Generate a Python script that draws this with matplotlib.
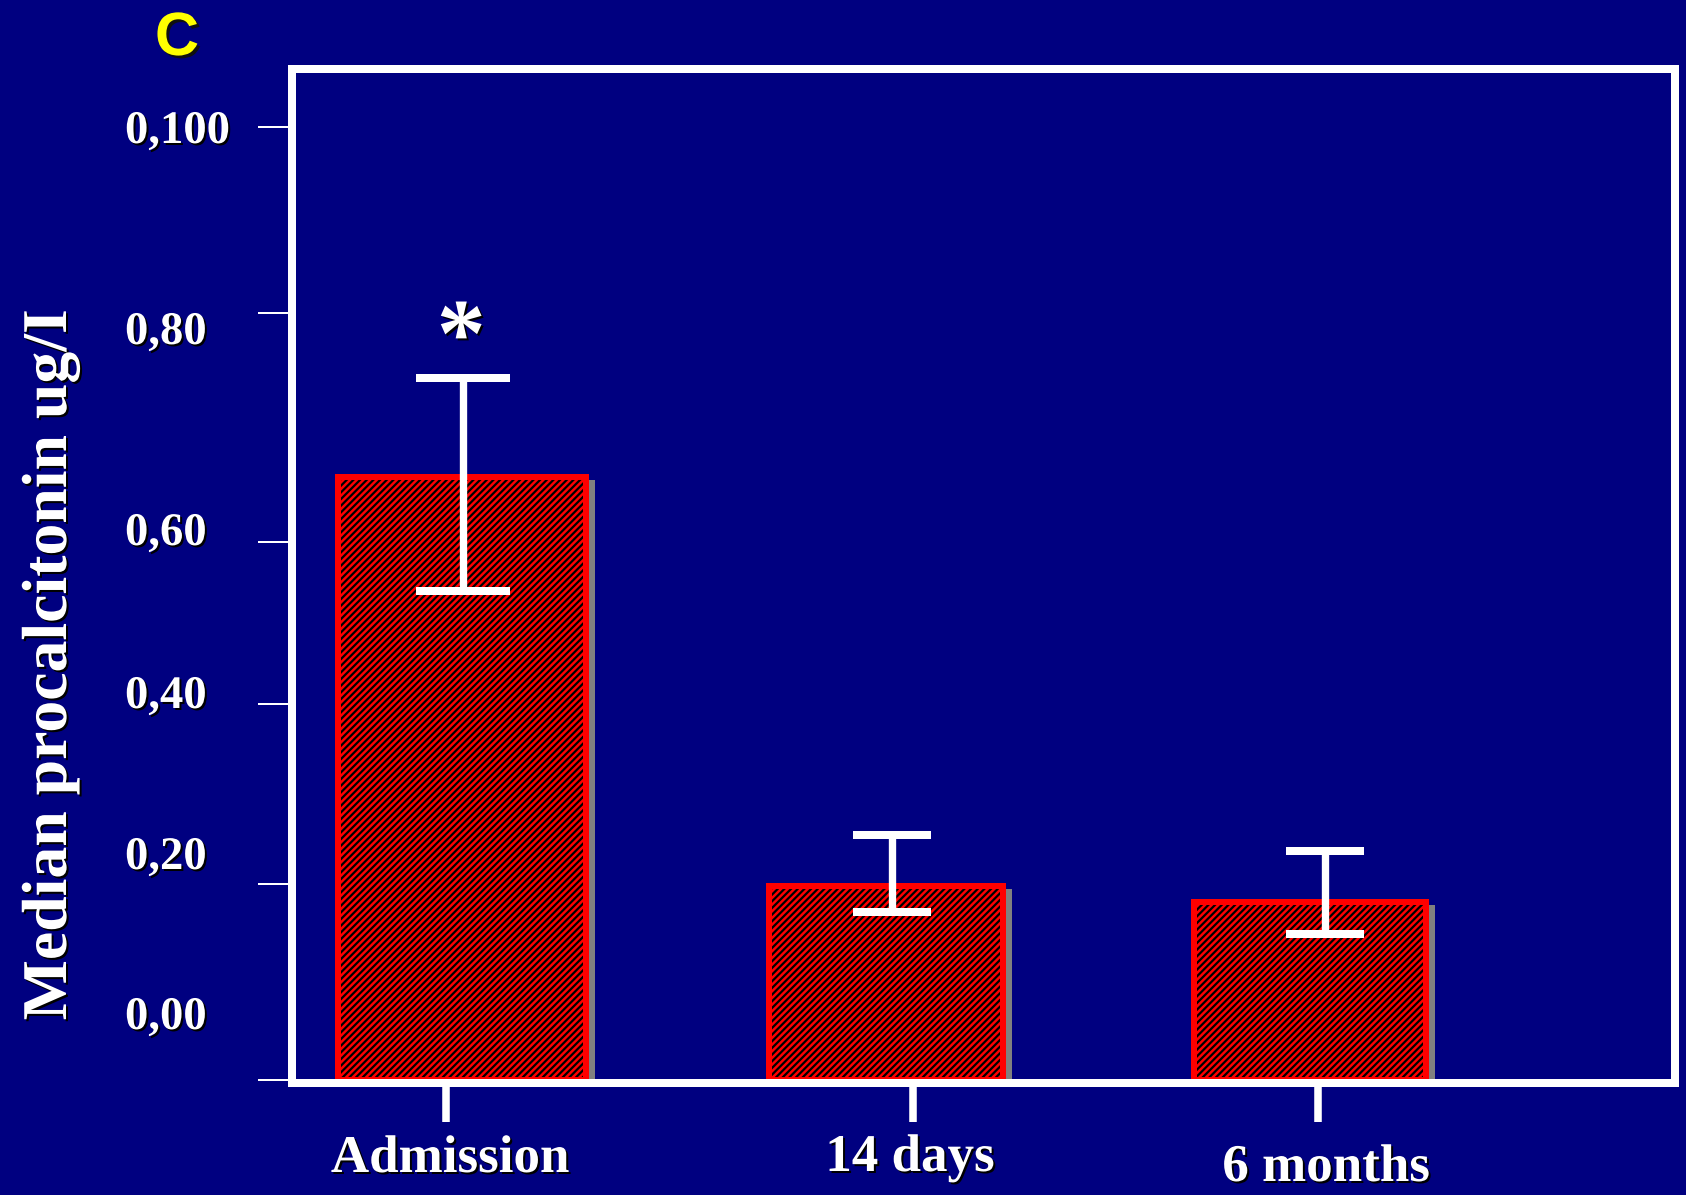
import numpy as np
import matplotlib
matplotlib.use("Agg")
import matplotlib.pyplot as plt
import matplotlib.patheffects as pe
from matplotlib.transforms import ScaledTranslation

# ---------------- data ----------------
categories = ["Admission", "14 days", "6 months"]
median_pct = [0.657, 0.198, 0.182]          # median procalcitonin, ug/l
err_low_bound = [0.540, 0.172, 0.149]
err_high_bound = [0.743, 0.2545, 0.237]
significance = ["*", "", ""]
ytick_values = [0.0, 0.2, 0.4, 0.6, 0.8, 1.0]
ytick_labels = ["0,00", "0,20", "0,40", "0,60", "0,80", "0,100"]
panel_letter = "C"
ylabel = "Median procalcitonin ug/I"

# ---------------- layout ----------------
DPI = 80
W, H = 1686, 1195
NAVY = "#000080"
SERIF = ["Liberation Serif", "DejaVu Serif"]
SANS = ["Liberation Sans", "DejaVu Sans"]

plt.rcParams["hatch.linewidth"] = 2.0

# the slide's value axis is hand drawn: pixel row of every tick
tick_rows = np.array([1079.8, 884.0, 704.3, 541.5, 313.0, 127.4])
_v = np.concatenate([[-0.2], ytick_values, [1.2]])
_r = np.concatenate([[tick_rows[0] + (tick_rows[0] - tick_rows[1])], tick_rows,
                     [tick_rows[-1] - (tick_rows[-2] - tick_rows[-1])]])
_h = -_r


def fwd(v):
    return np.interp(v, _v, _h)


def inv(h):
    return np.interp(h, _h, _v)


fig = plt.figure(figsize=(W / DPI, H / DPI), dpi=DPI, facecolor=NAVY)
ax = fig.add_axes([292 / W, 1 - 1083 / H, (1675 - 292) / W, (1083 - 69) / H],
                  facecolor=NAVY)
ax.set_yscale("function", functions=(fwd, inv))
ax.set_ylim(-0.003, 1.063)
ax.set_xlim(-0.401, 2.861)

x = np.arange(len(categories))
widths = [0.585, 0.55, 0.547]

# drop shadow behind the bars
shadow = ax.bar(x, median_pct, widths, color="#808080", edgecolor="#808080",
                linewidth=5.4, zorder=1)
off = ScaledTranslation(6 / DPI, -6 / DPI, fig.dpi_scale_trans)
for r in shadow:
    r.set_transform(ax.transData + off)

ax.bar(x, median_pct, widths, color="#ff0000", edgecolor="black", linewidth=0,
       hatch="////", zorder=2)
ax.bar(x, median_pct, widths, fill=False, edgecolor="#ff0000", linewidth=5.4,
       zorder=3)

err_dx = [0.002, 0.014, 0.035]
capsizes = [41.9, 35.1, 35.1]
for i in range(len(categories)):
    lo = median_pct[i] - err_low_bound[i]
    hi = err_high_bound[i] - median_pct[i]
    ax.errorbar(x[i] + err_dx[i], median_pct[i], yerr=[[lo], [hi]], fmt="none",
                ecolor="white", elinewidth=6.6, capsize=capsizes[i],
                capthick=7.2, zorder=4)

shadow_fx = [pe.withSimplePatchShadow(offset=(1.8, -1.8),
                                      shadow_rgbFace="black", alpha=1.0)]

# significance marks
for i, s in enumerate(significance):
    if s:
        ax.annotate(s, (x[i] + err_dx[i], err_high_bound[i]),
                    xytext=(-1.5, 11), textcoords="offset points",
                    ha="center", va="baseline", color="white",
                    fontsize=88, fontweight="bold", family=SERIF,
                    path_effects=shadow_fx, zorder=6)

for s in ax.spines.values():
    s.set_color("white")
    s.set_linewidth(7.2)
    s.set_zorder(5)

ax.set_yticks(ytick_values)
ax.set_xticks([-0.038, 1.064, 2.019])
ax.tick_params(axis="y", direction="out", length=30.6, width=1.8,
               color="white", labelleft=False)
ax.tick_params(axis="x", direction="out", length=35, width=6.8,
               color="white", labelbottom=False)

# tick labels (placed as on the slide)
ylab_base = [1029, 869, 708, 545, 344, 143]
for lab, b in zip(ytick_labels, ylab_base):
    fig.text(125 / W, 1 - b / H, lab, ha="left", va="baseline", color="white",
             fontsize=42, fontweight="bold", family=SERIF,
             path_effects=shadow_fx)

xlab_cx = [450, 910, 1326]
xlab_base = [1172, 1171, 1181]
for lab, cx, b in zip(categories, xlab_cx, xlab_base):
    fig.text(cx / W, 1 - b / H, lab, ha="center", va="baseline", color="white",
             fontsize=47.7, fontweight="bold", family=SERIF,
             path_effects=shadow_fx)

fig.text(51 / W, 1 - 665 / H, ylabel, rotation=90, ha="center", va="center",
         color="white", fontsize=57.4, fontweight="bold", family=SERIF,
         path_effects=shadow_fx)

fig.text(177 / W, 1 - 55 / H, panel_letter, ha="center", va="baseline",
         color="#ffff00", fontsize=55, fontweight="bold", family=SANS,
         path_effects=[pe.withSimplePatchShadow(offset=(2.5, -2.5),
                                                shadow_rgbFace="#101010",
                                                alpha=1.0)])

fig.savefig("out.png", dpi=DPI, facecolor=NAVY)
